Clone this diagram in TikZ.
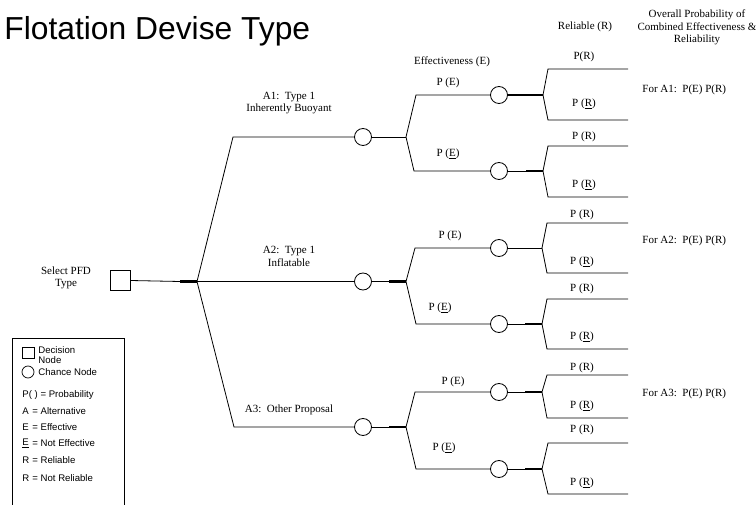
\documentclass[tikz,border=0pt]{standalone}
\usepackage{fontspec}
\setmainfont{Liberation Serif}
\setsansfont{Liberation Sans}
\begin{document}
\begin{tikzpicture}[x=1pt,y=-1pt,
  line width=0.8pt,
  thin line/.style={line width=0.8pt},
  thick line/.style={line width=2.3pt},
  chance/.style={draw,circle,minimum size=17pt,inner sep=0pt,line width=0.8pt,fill=white},
  decision/.style={draw,rectangle,minimum width=20pt,minimum height=20pt,inner sep=0pt,line width=0.8pt},
  lbl/.style={font=\fontsize{11}{12.5}\selectfont,inner sep=0pt,align=center},
  leg/.style={font=\sffamily\fontsize{9.6}{11}\selectfont,inner sep=0pt,anchor=west,align=left},
]
\useasboundingbox (0,0) rectangle (756,505);

% title
\node[anchor=base west,inner sep=0pt,font=\sffamily\fontsize{31.8}{36}\selectfont] (title) at (4,40) {Flotation Devise Type};

% column headers
\node[lbl] (hE) at (452,62) {Effectiveness (E)};
\node[lbl] (hR) at (585,27) {Reliable (R)};
\node[lbl] (hO) at (697,27.5) {Overall Probability of\\Combined Effectiveness \&\\Reliability};

% decision node
\node[decision] (D) at (120,280.5) {};
\node[lbl] (Dlbl) at (66,278) {Select PFD\\Type};
\coordinate (d0) at (180,281.5);
\coordinate (j0) at (197,281.5);
\draw[thin line] (D.east) -- (d0);
\draw[thick line] (d0) -- (j0);

% first-level chance nodes
\node[chance] (c1) at (363,137) {};
\node[chance] (c2) at (363,281.5) {};
\node[chance] (c3) at (363,427) {};
\coordinate (k1) at (233,137);
\coordinate (k3) at (234,427);
\draw[thin line] (j0) -- (k1) -- (c1);
\draw[thin line] (j0) -- (c2);
\draw[thin line] (j0) -- (k3) -- (c3);

\node[lbl] (a1) at (289,103) {A1:\ \ Type 1\\Inherently Buoyant};
\node[lbl] (a2) at (289,256.5) {A2:\ \ Type 1\\Inflatable};
\node[lbl] (a3) at (289,410) {A3:\ \ Other Proposal};

% second-level junctions
\coordinate (j1) at (406,137);
\coordinate (j2) at (406,281.5);
\coordinate (j3) at (406,427);
\coordinate (t2) at (389,281.5);
\coordinate (t3) at (389,427);
\draw[thin line] (c1) -- (j1);
\draw[thin line] (c2) -- (t2);
\draw[thick line] (t2) -- (j2);
\draw[thin line] (c3) -- (t3);
\draw[thick line] (t3) -- (j3);

% effectiveness chance nodes
\node[chance] (e11) at (499,95) {};
\node[chance] (e12) at (499,171) {};
\node[chance] (e21) at (499,248) {};
\node[chance] (e22) at (499,324) {};
\node[chance] (e31) at (499,392) {};
\node[chance] (e32) at (499,469) {};

\coordinate (u11) at (416,95);  \coordinate (u12) at (414,171);
\coordinate (u21) at (415,248); \coordinate (u22) at (416,324);
\coordinate (u31) at (415,392); \coordinate (u32) at (416,469);
\draw[thin line] (j1) -- (u11) -- (e11);
\draw[thin line] (j1) -- (u12) -- (e12);
\draw[thin line] (j2) -- (u21) -- (e21);
\draw[thin line] (j2) -- (u22) -- (e22);
\draw[thin line] (j3) -- (u31) -- (e31);
\draw[thin line] (j3) -- (u32) -- (e32);

% reliability junctions
\coordinate (r11) at (543,95);  \coordinate (r12) at (543,171);
\coordinate (r21) at (542,248); \coordinate (r22) at (542,324);
\coordinate (r31) at (542,392); \coordinate (r32) at (542,469);
\coordinate (s12) at (526,171);
\coordinate (s22) at (525,324);
\coordinate (s31) at (525,392);
\coordinate (s32) at (525,469);
\draw[thick line] (e11) -- (r11);
\draw[thin line] (e12) -- (s12); \draw[thick line] (s12) -- (r12);
\draw[thin line] (e21) -- (r21);
\draw[thin line] (e22) -- (s22); \draw[thick line] (s22) -- (r22);
\draw[thin line] (e31) -- (s31); \draw[thick line] (s31) -- (r31);
\draw[thin line] (e32) -- (s32); \draw[thick line] (s32) -- (r32);

% reliability branches
\foreach \r/\ya/\yb/\xa in {r11/69/120/548, r12/146/197/548, r21/223/273/547, r22/299/349/547, r31/375/418/547, r32/443/494/548}{
  \coordinate (\r a) at (\xa,\ya);
  \coordinate (\r ae) at (628,\ya);
  \coordinate (\r b) at (\xa,\yb);
  \coordinate (\r be) at (628,\yb);
  \draw[thin line] (\r ae) -- (\r a) -- (\r) -- (\r b) -- (\r be);
}

% effectiveness labels
\node[lbl] (pe11) at (448,83) {P (E)};
\node[lbl] (pe12) at (448,154) {P (\underline{E})};
\node[lbl] (pe21) at (450,236) {P (E)};
\node[lbl] (pe22) at (440,308) {P (\underline{E})};
\node[lbl] (pe31) at (453,382) {P (E)};
\node[lbl] (pe32) at (444,448) {P (\underline{E})};

% reliability labels
\node[lbl] (pr11a) at (584,57) {P(R)};
\node[lbl] (pr11b) at (584,104) {P (\underline{R})};
\node[lbl] (pr12a) at (584,137) {P (R)};
\node[lbl] (pr12b) at (584,185) {P (\underline{R})};
\node[lbl] (pr21a) at (582,215) {P (R)};
\node[lbl] (pr21b) at (582,262) {P (\underline{R})};
\node[lbl] (pr22a) at (582,289) {P (R)};
\node[lbl] (pr22b) at (582,337) {P (\underline{R})};
\node[lbl] (pr31a) at (582,368) {P (R)};
\node[lbl] (pr31b) at (582,406) {P (\underline{R})};
\node[lbl] (pr32a) at (582,430) {P (R)};
\node[lbl] (pr32b) at (582,483) {P (\underline{R})};

% overall probabilities
\node[lbl,anchor=west] (o1) at (642,90) {For A1:\ \ P(E) P(R)};
\node[lbl,anchor=west] (o2) at (642,241) {For A2:\ \ P(E) P(R)};
\node[lbl,anchor=west] (o3) at (642,394) {For A3:\ \ P(E) P(R)};

% legend
\coordinate (L1) at (12,506);
\coordinate (L2) at (12,338);
\coordinate (L3) at (124,338);
\coordinate (L4) at (124,506);
\draw[line width=0.8pt] (L1) -- (L2) -- (L3) -- (L4);
\node[draw,rectangle,minimum width=12pt,minimum height=11pt,inner sep=0pt,line width=0.7pt] (lsq) at (28,352.5) {};
\node[leg,font=\sffamily\fontsize{9.6}{10.5}\selectfont] (lsqt) at (38,355) {Decision\\Node};
\node[draw,circle,minimum size=12pt,inner sep=0pt,line width=0.7pt] (lci) at (28,372) {};
\node[leg] (lcit) at (38,372) {Chance Node};
\node[leg] (lp) at (22,395) {P( ) = Probability};
\node[leg] (lA) at (22,411) {A};   \node[leg] (lAt) at (32,411) {= Alternative};
\node[leg] (lE) at (22,427) {E};   \node[leg] (lEt) at (32,427) {= Effective};
\node[leg] (lN) at (22,443) {\underline{E}}; \node[leg] (lNt) at (32,443) {= Not Effective};
\node[leg] (lR) at (22,460) {R};   \node[leg] (lRt) at (32,460) {= Reliable};
\node[leg] (lQ) at (22,478) {R};   \node[leg] (lQt) at (32,478) {= Not Reliable};
\end{tikzpicture}
\end{document}
